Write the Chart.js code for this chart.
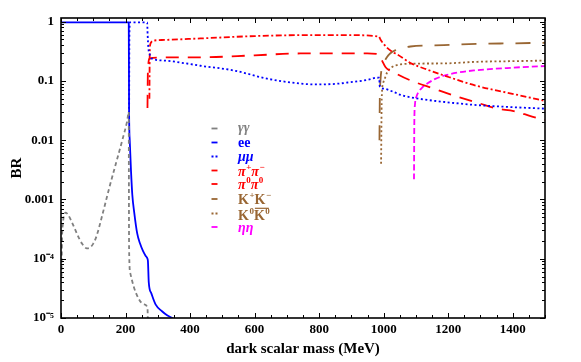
<!DOCTYPE html>
<html>
<head>
<meta charset="utf-8">
<script src="https://cdn.jsdelivr.net/npm/chart.js@4/dist/chart.umd.min.js"></script>
<style>
  html, body { margin: 0; padding: 0; background: #fff; }
</style>
</head>
<body>
<canvas id="brChart" width="581" height="362"></canvas>
<script>
// dark scalar mass (MeV) and branching ratio
const ggMass = [1.5, 3, 6, 10, 15, 22, 35, 50, 65, 80, 90, 100, 110, 130, 150, 170, 190, 205, 210, 210.5, 211, 215, 226, 241, 257, 268, 270];
const ggBR   = [5e-5, 2e-4, 4e-4, 5.5e-4, 6e-4, 5.5e-4, 4e-4, 2.6e-4, 1.8e-4, 1.5e-4, 1.55e-4, 1.8e-4, 2.4e-4, 6e-4, 1.6e-3, 4e-3, 1e-2, 2.1e-2, 3e-2, 1e-3, 1.5e-4, 5.6e-5, 3.3e-5, 2.1e-5, 1.7e-5, 1.5e-5, 5e-6];

const eeMass = [0, 210, 211, 213, 217, 221, 227, 236, 245, 254, 262, 268, 269.5, 272, 280, 293, 313, 330, 345, 360];
const eeBR   = [0.97, 0.97, 0.03, 0.01, 3e-3, 1.2e-3, 6e-4, 2.7e-4, 1.8e-4, 1.35e-4, 1.12e-4, 1e-4, 9e-5, 4e-5, 2.6e-5, 1.7e-5, 1.3e-5, 1.1e-5, 1e-5, 8.5e-6];

const mumuMass = [211, 212, 214, 240, 267, 268.5, 271, 275, 280, 320, 380, 432, 535, 639, 742, 794, 850, 897, 950, 980, 986, 988, 1000, 1031, 1052, 1100, 1190, 1290, 1400, 1500];
const mumuBR   = [0.02, 0.6, 0.97, 0.97, 0.97, 0.6, 0.35, 0.28, 0.24, 0.22, 0.2, 0.18, 0.15, 0.109, 0.09, 0.087, 0.089, 0.095, 0.104, 0.113, 0.113, 0.08, 0.074, 0.065, 0.058, 0.051, 0.044, 0.039, 0.036, 0.034];

const pipiMass = [274, 275, 277, 281, 290, 320, 432, 600, 742, 900, 985, 990, 1000, 1011, 1031, 1042, 1083, 1135, 1186, 1290, 1403, 1500];
const pipiBR   = [0.05, 0.3, 0.42, 0.46, 0.48, 0.49, 0.52, 0.57, 0.59, 0.59, 0.56, 0.5, 0.42, 0.36, 0.3, 0.28, 0.2, 0.155, 0.124, 0.082, 0.06, 0.046];

const pi0Mass = [268, 269, 271, 275, 285, 320, 432, 600, 742, 949, 985, 995, 1006, 1031, 1083, 1156, 1238, 1295, 1352, 1403, 1460, 1500];
const pi0BR   = [0.035, 0.12, 0.2, 0.24, 0.245, 0.25, 0.25, 0.27, 0.29, 0.29, 0.28, 0.22, 0.17, 0.14, 0.102, 0.074, 0.052, 0.042, 0.034, 0.031, 0.025, 0.022];

const kpMass = [987, 988, 990, 995, 1000, 1010, 1020, 1037, 1060, 1083, 1186, 1290, 1400, 1500];
const kpBR   = [0.01, 0.05, 0.1, 0.17, 0.2, 0.25, 0.29, 0.33, 0.36, 0.38, 0.40, 0.42, 0.43, 0.44];

const k0Mass = [992, 994, 998, 1005, 1011, 1025, 1042, 1083, 1186, 1290, 1400, 1500];
const k0BR   = [0.004, 0.05, 0.09, 0.115, 0.14, 0.17, 0.185, 0.195, 0.197, 0.21, 0.215, 0.22];

const etaMass = [1094, 1095, 1097, 1102, 1110, 1120, 1135, 1160, 1186, 1230, 1280, 1400, 1500];
const etaBR   = [0.0022, 0.02, 0.04, 0.055, 0.067, 0.078, 0.09, 0.108, 0.122, 0.138, 0.15, 0.167, 0.178];

// legend text: ^ = superscript, ~ = bar over next letter
const labels = ['γγ', 'ee', 'μμ', 'π^+π^−', 'π^0π^0', 'K^+K^−', 'K^0~K^0', 'ηη'];
const yTickLabels = {'0': '1', '-1': '0.1', '-2': '0.01', '-3': '0.001', '-4': '10⁻⁴', '-5': '10⁻⁵'};

const SERIF = '"Liberation Serif", "Times New Roman", serif';
const GRAY = '#808080', BLUE = '#0000ff', RED = '#ff0000', BROWN = '#996633', MAGENTA = '#ff00ff';

function pts(xs, ys) {
  return xs.map((m, i) => ({x: m, y: ys[i]}));
}

function series(label, xs, ys, color, dash, italic) {
  return {
    label: label,
    data: pts(xs, ys),
    borderColor: color,
    backgroundColor: color,
    borderWidth: 1.8,
    borderDash: dash,
    pointRadius: 0,
    cubicInterpolationMode: 'monotone',
    fill: false,
    italic: italic
  };
}

// draws a label with simple superscripts and overbars
function drawRich(ctx, text, x, y, size, italic) {
  const base = (italic ? 'italic ' : '') + 'bold ' + size + 'px ' + SERIF;
  const small = 'bold ' + Math.round(size * 0.64) + 'px ' + SERIF;
  let bar = false;
  for (let i = 0; i < text.length; i++) {
    const c = text[i];
    if (c === '~') { bar = true; continue; }
    if (c === '^') {
      i++;
      ctx.font = small;
      ctx.fillText(text[i], x + 0.5, y - size * 0.4);
      x += ctx.measureText(text[i]).width + 0.5;
      continue;
    }
    ctx.font = base;
    const w = ctx.measureText(c).width;
    ctx.fillText(c, x, y);
    if (bar) {
      ctx.save();
      ctx.strokeStyle = ctx.fillStyle;
      ctx.lineWidth = 1.2;
      ctx.beginPath();
      ctx.moveTo(x + 1, y - size * 0.8);
      ctx.lineTo(x + w + 4, y - size * 0.8);
      ctx.stroke();
      ctx.restore();
      bar = false;
    }
    x += w;
  }
}

const frameAndLegend = {
  id: 'frameAndLegend',
  afterDatasetsDraw(chart) {
    const {ctx, chartArea: a, scales: {x, y}} = chart;
    ctx.save();
    ctx.strokeStyle = '#000';
    ctx.lineWidth = 1;
    ctx.beginPath();
    for (let v = 0; v <= x.max; v += 50) {
      const px = Math.round(x.getPixelForValue(v)) + 0.5;
      const len = v % 200 === 0 ? 5 : 3;
      ctx.moveTo(px, a.bottom); ctx.lineTo(px, a.bottom - len);
      ctx.moveTo(px, a.top); ctx.lineTo(px, a.top + len);
    }
    for (let e = -5; e <= 0; e++) {
      for (let k = 1; k <= 9; k++) {
        const v = k * Math.pow(10, e);
        if (v > y.max) break;
        const py = Math.round(y.getPixelForValue(v)) + 0.5;
        const len = k === 1 ? 5 : 3;
        ctx.moveTo(a.left, py); ctx.lineTo(a.left + len, py);
        ctx.moveTo(a.right, py); ctx.lineTo(a.right - len, py);
      }
    }
    ctx.stroke();
    ctx.lineWidth = 1.6;
    ctx.strokeRect(a.left, a.top, a.right - a.left, a.bottom - a.top);

    // legend inside the plot
    const rowY = [128.5, 142.5, 156.5, 170.5, 184, 199, 213.5, 227];
    const baseY = [132, 146.5, 160.5, 176, 188.5, 204, 219.5, 231.5];
    chart.data.datasets.forEach((ds, i) => {
      ctx.strokeStyle = ds.borderColor;
      ctx.lineWidth = 1.8;
      ctx.setLineDash([]);
      ctx.beginPath();
      const dotted = ds.borderDash.length === 2 && ds.borderDash[0] <= 2;
      if (dotted) {
        ctx.moveTo(211.5, rowY[i]); ctx.lineTo(213.5, rowY[i]);
        ctx.moveTo(215.5, rowY[i]); ctx.lineTo(217.5, rowY[i]);
      } else {
        ctx.moveTo(211.5, rowY[i]); ctx.lineTo(217.5, rowY[i]);
      }
      ctx.stroke();
      ctx.fillStyle = ds.borderColor;
      ctx.textBaseline = 'alphabetic';
      ctx.textAlign = 'left';
      drawRich(ctx, ds.label, 238, baseY[i], 14, ds.italic);
    });
    ctx.restore();
  }
};

new Chart(document.getElementById('brChart').getContext('2d'), {
  type: 'line',
  data: {
    datasets: [
      series(labels[0], ggMass, ggBR, GRAY, [4, 3], true),
      series(labels[1], eeMass, eeBR, BLUE, [], false),
      series(labels[2], mumuMass, mumuBR, BLUE, [2, 2.5], true),
      series(labels[3], pipiMass, pipiBR, RED, [6, 2.5, 2, 2.5], true),
      series(labels[4], pi0Mass, pi0BR, RED, [13, 9], true),
      series(labels[5], kpMass, kpBR, BROWN, [15, 12], false),
      series(labels[6], k0Mass, k0BR, BROWN, [2, 2.5], false),
      series(labels[7], etaMass, etaBR, MAGENTA, [6, 3], true)
    ]
  },
  options: {
    responsive: false,
    animation: false,
    devicePixelRatio: 1,
    layout: { padding: { left: 0, top: 18, right: 36, bottom: 0 } },
    plugins: {
      legend: { display: false },
      tooltip: { enabled: false }
    },
    scales: {
      x: {
        type: 'linear',
        min: 0,
        max: 1500,
        grid: { display: false, drawTicks: false },
        border: { display: false },
        ticks: {
          stepSize: 200,
          includeBounds: false,
          autoSkip: false,
          padding: 4,
          color: '#000',
          font: { family: SERIF, size: 13, weight: 'bold' },
          maxRotation: 0,
          callback: v => (v % 200 === 0 && v < 1500 ? String(v) : '')
        },
        title: {
          display: true,
          text: 'dark scalar mass (MeV)',
          color: '#000',
          font: { family: SERIF, size: 15, weight: 'bold' },
          padding: { top: 0, bottom: 4 }
        },
        afterFit: s => { s.height = 44; }
      },
      y: {
        type: 'logarithmic',
        min: 1e-5,
        max: 1.15,
        grid: { display: false, drawTicks: false },
        border: { display: false },
        ticks: {
          autoSkip: false,
          padding: 7,
          color: '#000',
          font: { family: SERIF, size: 13, weight: 'bold' },
          callback: v => {
            const e = Math.log10(v);
            if (Math.abs(e - Math.round(e)) > 1e-6) return '';
            return yTickLabels[String(Math.round(e))] || '';
          }
        },
        title: {
          display: true,
          text: 'BR',
          color: '#000',
          font: { family: SERIF, size: 15, weight: 'bold' },
          padding: { top: 8, bottom: 0 }
        },
        afterFit: s => { s.width = 61; }
      }
    }
  },
  plugins: [frameAndLegend]
});
</script>
</body>
</html>
